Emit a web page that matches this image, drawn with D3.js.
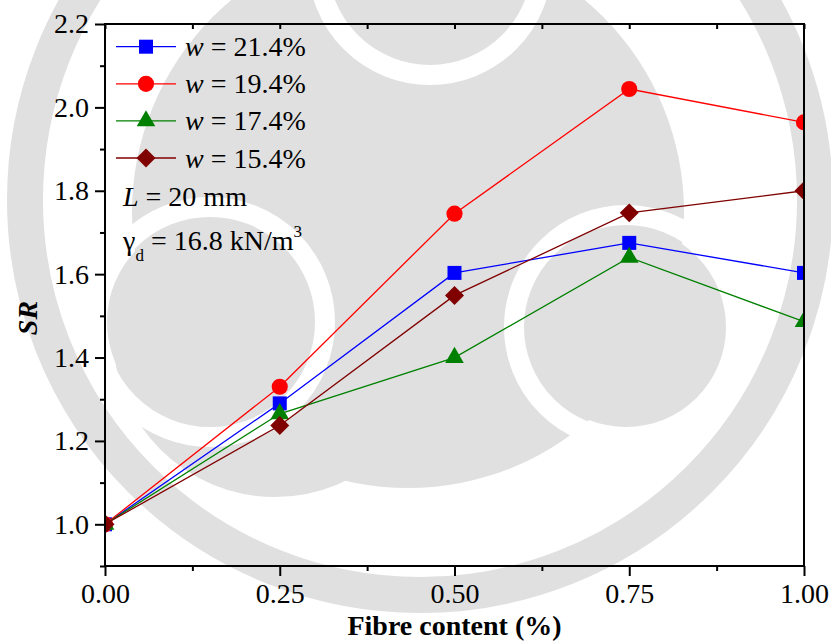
<!DOCTYPE html>
<html>
<head>
<meta charset="utf-8">
<script src="https://cdn.jsdelivr.net/npm/d3@7/dist/d3.min.js"></script>
<style>
  body { margin: 0; background: #fff; }
  svg { display: block; font-family: "Liberation Serif", "Times New Roman", serif; }
</style>
</head>
<body>
<div id="chart"></div>
<script>
// fibre content (%) and strength ratio SR for each water content
const fibre = [0, 0.25, 0.5, 0.75, 1.0];
const sr214 = [1.0, 1.29, 1.603, 1.675, 1.603];
const sr194 = [1.0, 1.33, 1.745, 2.044, 1.964];
const sr174 = [1.0, 1.265, 1.40, 1.64, 1.486];
const sr154 = [1.0, 1.237, 1.549, 1.747, 1.80];
const waterLabels = ["21.4%", "19.4%", "17.4%", "15.4%"];
const xTicks = [0, 0.25, 0.5, 0.75, 1.0];
const yTicks = [1.0, 1.2, 1.4, 1.6, 1.8, 2.0, 2.2];

const width = 831, height = 641;
const margin = { left: 105, right: 27, top: 24, bottom: 75 };

const series = [
  { label: waterLabels[0], values: sr214, color: "#0000ff", symbol: d3.symbolSquare, size: 196, rotate: 0 },
  { label: waterLabels[1], values: sr194, color: "#ff0000", symbol: d3.symbolCircle, size: 205, rotate: 0 },
  { label: waterLabels[2], values: sr174, color: "#008000", symbol: d3.symbolTriangle, size: 150, rotate: 0 },
  { label: waterLabels[3], values: sr154, color: "#800000", symbol: d3.symbolSquare, size: 180, rotate: 45 }
];

const svg = d3.select("#chart").append("svg")
  .attr("width", width)
  .attr("height", height)
  .attr("viewBox", [0, 0, width, height]);

// faint logo watermark behind the plot
const grey = "#e0e0e0";
const wm = svg.append("g");
wm.append("circle").attr("cx", 420).attr("cy", 200).attr("r", 395)
  .attr("fill", "none").attr("stroke", grey).attr("stroke-width", 36);
wm.append("circle").attr("cx", 408).attr("cy", 212).attr("r", 276).attr("fill", grey);
wm.append("circle").attr("cx", 275).attr("cy", 335).attr("r", 162).attr("fill", grey);
const heads = [[430, -37, 100], [626, 327, 100], [210, 322, 103]];
heads.forEach(([cx, cy, r]) => {
  wm.append("circle").attr("cx", cx).attr("cy", cy).attr("r", r + 12)
    .attr("fill", "none").attr("stroke", "#fff").attr("stroke-width", 20);
  wm.append("circle").attr("cx", cx).attr("cy", cy).attr("r", r).attr("fill", grey);
});

const x = d3.scaleLinear([0, 1], [margin.left, width - margin.right]);
const y = d3.scaleLinear([0.9, 2.2], [height - margin.bottom, margin.top]);

svg.append("clipPath").attr("id", "plot-clip")
  .append("rect")
  .attr("x", margin.left).attr("y", margin.top)
  .attr("width", x(1) - x(0)).attr("height", y(0.9) - y(2.2));

const plot = svg.append("g").attr("clip-path", "url(#plot-clip)");

const lineGen = d3.line()
  .x((d, i) => x(fibre[i]))
  .y(d => y(d));

series.forEach(s => {
  plot.append("path")
    .attr("fill", "none")
    .attr("stroke", s.color)
    .attr("stroke-width", 1.3)
    .attr("d", lineGen(s.values));
  plot.selectAll(null)
    .data(s.values)
    .join("path")
    .attr("transform", (d, i) => `translate(${x(fibre[i])},${y(d)}) rotate(${s.rotate})`)
    .attr("d", d3.symbol(s.symbol, s.size))
    .attr("fill", s.color);
});

// axes
const minorX = d3.range(0.125, 1, 0.25);
const minorY = d3.range(0.9, 2.2, 0.2).map(d => +d.toFixed(1));

svg.append("g")
  .attr("transform", `translate(0,${y(0.9)})`)
  .call(d3.axisBottom(x).tickValues(xTicks).tickSize(10).tickPadding(7).tickFormat(d3.format(".2f")));
svg.append("g")
  .attr("transform", `translate(0,${y(0.9)})`)
  .call(d3.axisBottom(x).tickValues(minorX).tickSize(5).tickFormat(""));

svg.append("g")
  .attr("transform", `translate(${margin.left},0)`)
  .call(d3.axisLeft(y).tickValues(yTicks).tickSize(10).tickPadding(6).tickFormat(d3.format(".1f")));
svg.append("g")
  .attr("transform", `translate(${margin.left},0)`)
  .call(d3.axisLeft(y).tickValues(minorY).tickSize(5).tickFormat(""));

// top ticks point inward
svg.append("g")
  .attr("transform", `translate(0,${margin.top})`)
  .call(d3.axisTop(x).tickValues(d3.range(0, 1.01, 0.125)).tickSize(-5).tickFormat(""));

svg.selectAll(".domain").remove();
svg.selectAll(".tick line").attr("stroke", "#000").attr("stroke-width", 2);
svg.selectAll(".tick text")
  .attr("fill", "#000")
  .attr("font-size", 28)
  .attr("font-family", "Liberation Serif, Times New Roman, serif");

svg.append("rect")
  .attr("x", x(0)).attr("y", y(2.2))
  .attr("width", x(1) - x(0)).attr("height", y(0.9) - y(2.2))
  .attr("fill", "none").attr("stroke", "#000").attr("stroke-width", 2);

// axis titles
svg.append("text")
  .attr("x", (x(0) + x(1)) / 2)
  .attr("y", 635)
  .attr("text-anchor", "middle")
  .attr("font-size", 28)
  .attr("font-weight", "bold")
  .text("Fibre content (%)");

svg.append("text")
  .attr("transform", "translate(37,318) rotate(-90)")
  .attr("text-anchor", "middle")
  .attr("font-size", 28)
  .attr("font-weight", "bold")
  .attr("font-style", "italic")
  .text("SR");

// legend
const legend = svg.append("g");
series.forEach((s, i) => {
  const ly = 46.7 + i * 37.1;
  legend.append("line")
    .attr("x1", 116).attr("x2", 176)
    .attr("y1", ly).attr("y2", ly)
    .attr("stroke", s.color).attr("stroke-width", 1.3);
  legend.append("path")
    .attr("transform", `translate(146,${ly}) rotate(${s.rotate})`)
    .attr("d", d3.symbol(s.symbol, s.size))
    .attr("fill", s.color);
  const t = legend.append("text")
    .attr("x", 185).attr("y", ly + 9.5)
    .attr("font-size", 28);
  t.append("tspan").attr("font-style", "italic").text("w");
  t.append("tspan").text(" = " + s.label);
});

const note1 = svg.append("text").attr("x", 123).attr("y", 206).attr("font-size", 28);
note1.append("tspan").attr("font-style", "italic").text("L");
note1.append("tspan").text(" = 20 mm");

const note2 = svg.append("text").attr("x", 123).attr("y", 250).attr("font-size", 28);
note2.append("tspan").text("γ");
note2.append("tspan").attr("font-size", 17).attr("dy", 11).text("d");
note2.append("tspan").attr("dy", -11).text(" = 16.8 kN/m");
note2.append("tspan").attr("font-size", 17).attr("dy", -13).text("3");
</script>
</body>
</html>
